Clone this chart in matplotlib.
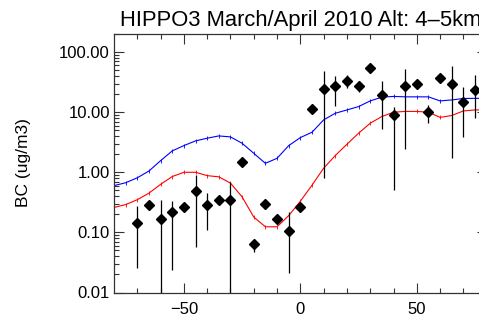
import matplotlib

matplotlib.use("Agg")
import matplotlib.pyplot as plt
import numpy as np
from matplotlib.ticker import FixedLocator, FormatStrFormatter, LogLocator, NullFormatter

plt.rcParams["font.family"] = ["Liberation Sans", "DejaVu Sans"]

# observed BC (diamonds) with min/max range bars, every 5 degrees latitude
obs_lat = [-70, -65, -60, -55, -50, -45, -40, -35, -30, -25, -20, -15, -10, -5,
           0, 5, 10, 15, 20, 25, 30, 35, 40, 45, 50, 55, 60, 65, 70, 75]
obs_bc = [0.145, 0.285, 0.17, 0.215, 0.26, 0.49, 0.285, 0.34, 0.34, 1.51, 0.064, 0.30, 0.17, 0.107,
          0.26, 11.3, 24.5, 27.8, 32.9, 27.5, 54.8, 19.4, 9.0, 27.5, 30.0, 10.0, 37.0, 30.0, 15.0, 23.0]
obs_lo = [0.026, 0.285, 0.005, 0.024, 0.26, 0.058, 0.11, 0.34, 0.005, 1.51, 0.048, 0.30, 0.17, 0.021,
          0.26, 11.3, 0.79, 12.8, 25.0, 21.3, 54.8, 5.3, 0.5, 2.4, 30.0, 6.6, 37.0, 1.76, 3.8, 7.9]
obs_hi = [0.27, 0.285, 0.35, 0.33, 0.26, 0.9, 0.46, 0.34, 0.7, 1.51, 0.074, 0.30, 0.17, 0.22,
          0.26, 11.3, 47.7, 40.0, 40.9, 27.5, 54.8, 33.0, 12.4, 52.0, 30.0, 13.2, 37.0, 58.0, 26.0, 41.8]

# model curves
mod_lat = [-80, -75, -70, -65, -60, -55, -50, -45, -40, -35, -30, -25, -20, -15, -10, -5,
           0, 5, 10, 15, 20, 25, 30, 35, 40, 45, 50, 55, 60, 65, 70, 75, 80]
mod_blue = [0.60, 0.67, 0.81, 1.05, 1.56, 2.27, 2.78, 3.33, 3.69, 4.03, 3.88, 3.04, 2.07, 1.41, 1.71, 2.78,
            3.78, 4.64, 7.45, 9.6, 10.9, 12.4, 15.4, 17.8, 18.3, 18.0, 18.0, 18.0, 15.4, 16.0, 16.9, 17.0, 17.0]
mod_red = [0.26, 0.29, 0.35, 0.45, 0.63, 0.85, 1.0, 1.0, 0.88, 0.84, 0.66, 0.39, 0.18, 0.124, 0.124, 0.19,
           0.33, 0.61, 1.17, 1.9, 2.93, 4.47, 6.56, 8.47, 10.0, 10.3, 10.3, 10.0, 8.2, 8.8, 10.5, 10.9, 11.0]

W, H = 479, 321
fig = plt.figure(figsize=(W / 100, H / 100), dpi=100)
ax = fig.add_axes([114 / W, 1 - 292.5 / H, (486.7 - 114) / W, (292.5 - 34) / H])

ax.plot(mod_lat, mod_blue, color="#0000ff", lw=0.8, marker="|", ms=3.5, mew=0.6)
ax.plot(mod_lat, mod_red, color="#ff0000", lw=0.8, marker="|", ms=3.5, mew=0.6)

lat = np.array(obs_lat)
ax.vlines(lat, obs_lo, obs_hi, color="black", lw=0.9)
ax.plot(lat, obs_bc, ls="none", marker="D", ms=4.6, color="black", mec="black")

ax.set_yscale("log")
ax.set_xlim(-80, 80)
ax.set_ylim(0.01, 200)

ax.xaxis.set_major_locator(FixedLocator([-50, 0, 50]))
ax.xaxis.set_minor_locator(FixedLocator(np.arange(-70, 80, 10)))
ax.yaxis.set_major_locator(FixedLocator([0.01, 0.1, 1, 10, 100]))
ax.yaxis.set_major_formatter(FormatStrFormatter("%.2f"))
ax.yaxis.set_minor_locator(LogLocator(base=10, subs=np.arange(2, 10), numticks=20))
ax.yaxis.set_minor_formatter(NullFormatter())

ax.tick_params(which="both", direction="in", top=True, right=True, width=0.8,
               color="#333333", labelsize=12)
ax.tick_params(which="major", length=7.2)
ax.tick_params(which="minor", length=3.6)
ax.tick_params(axis="y", pad=3)
ax.tick_params(axis="x", pad=7)

for sp in ax.spines.values():
    sp.set_linewidth(0.9)
    sp.set_color("#333333")

ax.set_title("HIPPO3 March/April 2010 Alt: 4\u20135km", fontsize=15.8, pad=6)
fig.text(24 / W, 1 - 163 / H, "BC (ug/m3)", rotation=90, ha="center", va="center",
         fontsize=12.5)

fig.savefig("out.png", dpi=100)
